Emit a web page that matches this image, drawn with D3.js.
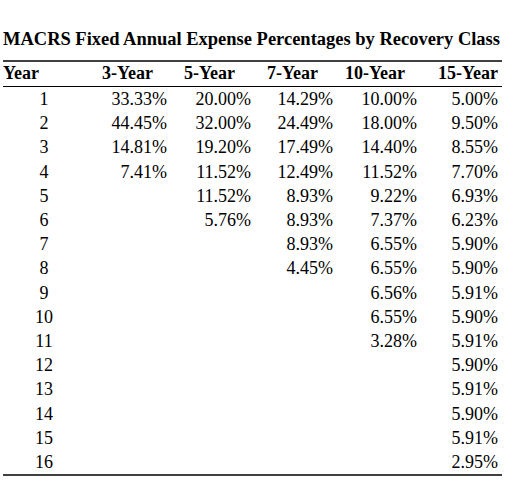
<!DOCTYPE html>
<html><head><meta charset="utf-8">
<script src="https://cdn.jsdelivr.net/npm/d3@7"></script>
<style>html,body{margin:0;padding:0;background:#fff;}</style>
</head><body>
<svg id="chart" width="513" height="488"></svg>
<script>
const title = "MACRS Fixed Annual Expense Percentages by Recovery Class";
const columns = ["3-Year", "5-Year", "7-Year", "10-Year", "15-Year"];
const years = [1,2,3,4,5,6,7,8,9,10,11,12,13,14,15,16];
const rate3  = [33.33, 44.45, 14.81, 7.41];
const rate5  = [20.00, 32.00, 19.20, 11.52, 11.52, 5.76];
const rate7  = [14.29, 24.49, 17.49, 12.49, 8.93, 8.93, 8.93, 4.45];
const rate10 = [10.00, 18.00, 14.40, 11.52, 9.22, 7.37, 6.55, 6.55, 6.56, 6.55, 3.28];
const rate15 = [5.00, 9.50, 8.55, 7.70, 6.93, 6.23, 5.90, 5.90, 5.91, 5.90, 5.91, 5.90, 5.91, 5.90, 5.91, 2.95];
const series = [rate3, rate5, rate7, rate10, rate15];

const svg = d3.select("#chart");
const font = "'Liberation Serif','Times New Roman',serif";
const left = 3, right = 502;

// layout
const headerRight = [153, 235, 318, 405, 498];
const valueRight  = [167, 251, 333, 417, 498];
const yearCenter = 44;

const y = d3.scaleLinear().domain([1, 16]).range([105, 468]);

svg.append("text").attr("x", left).attr("y", 44.5)
  .attr("font-family", font).attr("font-weight", "bold").attr("font-size", 18.5)
  .attr("textLength", 497).attr("lengthAdjust", "spacingAndGlyphs")
  .attr("fill", "#000").text(title);

const rule = (yy, w) => svg.append("line").attr("x1", left).attr("x2", right)
  .attr("y1", yy).attr("y2", yy).attr("stroke", "#000").attr("stroke-width", w);
rule(61, 1.5);
rule(86.5, 1);
rule(475, 1.5);

const hdr = svg.append("g").attr("font-family", font).attr("font-weight", "bold")
  .attr("font-size", 18).attr("fill", "#000");
hdr.append("text").attr("x", left).attr("y", 79).text("Year");
hdr.selectAll("text.col").data(columns).join("text").attr("class", "col")
  .attr("x", (d, i) => headerRight[i]).attr("y", 79).attr("text-anchor", "end").text(d => d);

const body = svg.append("g").attr("font-family", font).attr("font-size", 18).attr("fill", "#000");
body.selectAll("text.yr").data(years).join("text").attr("class", "yr")
  .attr("x", yearCenter).attr("y", d => y(d)).attr("text-anchor", "middle").text(d => d);

series.forEach((vals, ci) => {
  body.selectAll("text.c" + ci).data(vals).join("text").attr("class", "c" + ci)
    .attr("x", valueRight[ci]).attr("y", (d, i) => y(i + 1)).attr("text-anchor", "end")
    .text(d => d.toFixed(2) + "%");
});
</script>
</body></html>
